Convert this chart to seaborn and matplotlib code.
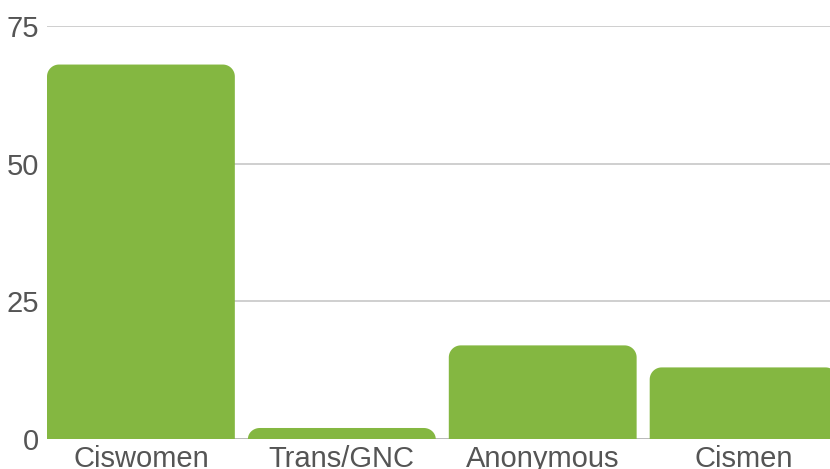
import matplotlib
matplotlib.use("Agg")
import matplotlib.pyplot as plt
import numpy as np
import pandas as pd
import seaborn as sns
from matplotlib.patches import Polygon

categories = ["Ciswomen", "Trans/GNC", "Anonymous", "Cismen"]
counts = [68, 2, 17, 13]
y_ticks = [0, 25, 50, 75]

df = pd.DataFrame({"group": categories, "count": counts})

sns.set_theme(style="white")
plt.rcParams["font.family"] = ["Liberation Sans", "DejaVu Sans"]

fig = plt.figure(figsize=(8.3, 4.69), dpi=100)
ax = fig.add_axes([47 / 830, 1 - 439 / 469, 1 - 47 / 830, (439 - 26) / 469])

bar_color = "#84b741"
sns.barplot(data=df, x="group", y="count", color=bar_color, width=0.935,
            saturation=1, ax=ax, zorder=3)

ax.set_xlim(-0.4675, 3.43)
ax.set_ylim(0, 75)

# swap square bars for ones with rounded top corners (radius in pixels)
px_x = 201.0
px_y = 413 / 75
radius_px = 12
for p in list(ax.patches):
    x0, w, h = p.get_x(), p.get_width(), p.get_height()
    p.set_visible(False)
    rx = radius_px / px_x
    ry = min(radius_px / px_y, h)
    t = np.linspace(0, np.pi / 2, 20)
    # top-right corner, then top-left corner
    right = np.column_stack([x0 + w - rx + rx * np.cos(t), h - ry + ry * np.sin(t)])
    left = np.column_stack([x0 + rx - rx * np.sin(t), h - ry + ry * np.cos(t)])
    pts = np.vstack([[x0 + w, 0], right, left, [x0, 0]])
    ax.add_patch(Polygon(pts, closed=True, facecolor=bar_color,
                         edgecolor="none", zorder=3))

ax.set_yticks(y_ticks)
ax.yaxis.grid(True, color="#c2c2c2", linewidth=1.1, zorder=0)
ax.axhline(0, color="#b8b8b8", linewidth=1.3, zorder=1)
for s in ax.spines.values():
    s.set_visible(False)

ax.tick_params(axis="both", length=0, labelsize=21, labelcolor="#555555")
ax.tick_params(axis="y", pad=6)
ax.tick_params(axis="x", pad=4)
ax.set_xlabel("")
ax.set_ylabel("")

fig.savefig("out.png", dpi=100)
plt.close(fig)
